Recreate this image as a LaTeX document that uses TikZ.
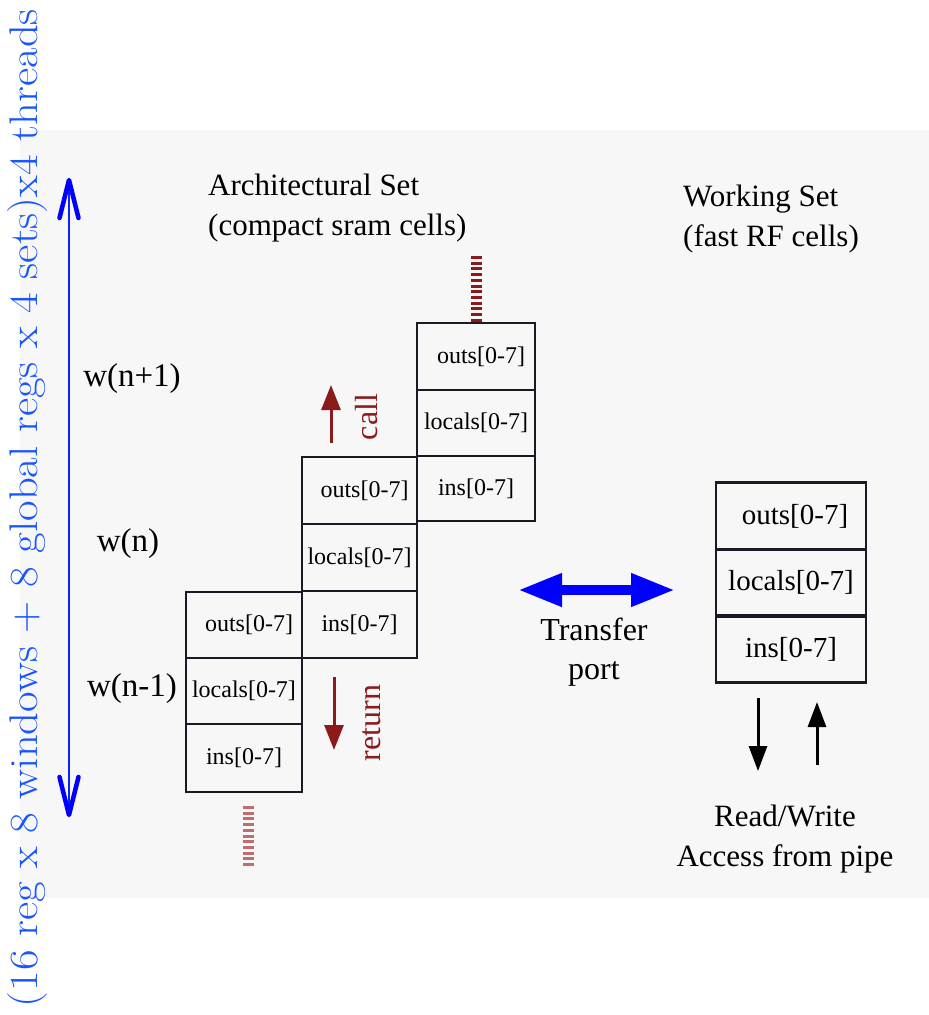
\documentclass[tikz,border=0pt]{standalone}
\usepackage{fontspec}
\newfontfamily\tms{Liberation Serif}
\usetikzlibrary{arrows.meta}
\definecolor{bggray}{RGB}{247,247,247}
\definecolor{regred}{RGB}{139,26,26}
\definecolor{stubred}{RGB}{190,110,110}
\definecolor{noteblue}{RGB}{25,85,255}
\definecolor{cellline}{RGB}{30,24,36}
\tikzset{
  cell/.style={draw=cellline, line width=2.6pt, inner sep=0pt, font=\tms\fontsize{24}{28}\selectfont},
  wcell/.style={cell, minimum width=150pt, minimum height=66.5pt, font=\tms\fontsize{29}{33}\selectfont},
  lbl/.style={font=\tms\fontsize{31}{40}\selectfont, inner sep=0pt},
  winlbl/.style={font=\tms\fontsize{33}{38}\selectfont, inner sep=0pt},
  redarrow/.style={draw=regred, line width=3pt, -{Triangle[length=25pt,width=19pt]}},
  pipearrow/.style={draw=black, line width=3pt, -{Triangle[length=25pt,width=18pt]}},
  stub/.style={line width=11pt, dash pattern=on 3pt off 2.7pt},
}
\begin{document}
\begin{tikzpicture}[x=1pt,y=-1pt]
\useasboundingbox (0,0) rectangle (929,1015);
\fill[bggray] (20,130) rectangle (929,898);

% total register count, running upwards along the left edge
\node[rotate=90, text=noteblue, inner sep=0pt, font=\fontsize{40}{48}\selectfont] (total) at (28,508)
  {\scalebox{1.12}[1]{(16 reg x 8 windows + 8 global regs x 4 sets)x4 threads}};

% extent arrow with open heads
\coordinate (xt) at (69,180);
\coordinate (xb) at (69,815);
\draw[noteblue!40!blue, line width=1.3pt] (xt) -- (xb);
\draw[blue, line width=4.5pt, line cap=round, line join=round]
  ([xshift=-9.5pt,yshift=-38pt]xt) -- (xt) -- ([xshift=9.5pt,yshift=-38pt]xt);
\draw[blue, line width=4.5pt, line cap=round, line join=round]
  ([xshift=-9.5pt,yshift=38pt]xb) -- (xb) -- ([xshift=9.5pt,yshift=38pt]xb);

% window labels
\node[winlbl] (wn1) at (132,379) {w(n+1)};
\node[winlbl] (wn)  at (128,544) {w(n)};
\node[winlbl] (wnm) at (132,689) {w(n-1)};

% headings
\node[lbl, anchor=north west, align=left] (arch) at (208,174)
  {Architectural Set\\(compact sram cells)};
\node[lbl, anchor=north west, align=left] (work) at (683,185)
  {Working Set\\(fast RF cells)};

% window w(n-1)
\node[cell, minimum width=116pt, minimum height=66pt]  (a1) at (244,625) {\hspace{10pt}outs[0-7]};
\node[cell, minimum width=116pt, minimum height=66pt]  (b1) at (244,691) {locals[0-7]};
\node[cell, minimum width=116pt, minimum height=68pt]  (c1) at (244,758) {ins[0-7]};
% window w(n)
\node[cell, minimum width=115pt, minimum height=67pt]  (a2) at (359.5,490.5) {\hspace{10pt}outs[0-7]};
\node[cell, minimum width=115pt, minimum height=67pt]  (b2) at (359.5,557.5) {locals[0-7]};
\node[cell, minimum width=115pt, minimum height=67pt]  (c2) at (359.5,624.5) {ins[0-7]};
% window w(n+1)
\node[cell, minimum width=118pt, minimum height=67pt]  (a3) at (476,356.5) {\hspace{10pt}outs[0-7]};
\node[cell, minimum width=118pt, minimum height=66pt]  (b3) at (476,423) {locals[0-7]};
\node[cell, minimum width=118pt, minimum height=65pt]  (c3) at (476,488.5) {ins[0-7]};

% working set
\node[wcell] (wa) at (791,516) {\hspace{8pt}outs[0-7]};
\node[wcell] (wb) at (791,582.5) {locals[0-7]};
\node[wcell] (wc) at (791,649.5) {ins[0-7]};

% continuation stubs above and below the window stack
\coordinate (s3) at (476,256);
\draw[stub, draw=regred] (s3) -- (a3.north);
\coordinate (s1a) at (248,806);
\coordinate (s1) at (248,868);
\draw[stub, draw=stubred] (s1a) -- (s1);

% call / return
\coordinate (cs) at (331,443);
\coordinate (ce) at (331,385);
\draw[redarrow] (cs) -- (ce);
\node[rotate=90, text=regred, font=\tms\fontsize{32}{36}\selectfont, inner sep=0pt] (call) at (367,417) {call};
\coordinate (rs) at (334,677);
\coordinate (re) at (334,750);
\draw[redarrow] (rs) -- (re);
\node[rotate=90, text=regred, font=\tms\fontsize{32}{36}\selectfont, inner sep=0pt] (ret) at (372,723) {return};

% transfer port
\coordinate (tl) at (518,590);
\coordinate (tr) at (675,590);
\draw[blue, line width=10pt, {Triangle[length=44pt,width=31pt]}-{Triangle[length=44pt,width=31pt]}] (tl) -- (tr);
\node[lbl, align=center, font=\tms\fontsize{32}{39}\selectfont] (tp) at (594,652) {Transfer\\port};

% pipe access
\coordinate (p1s) at (758,698);
\coordinate (p1e) at (758,771);
\draw[pipearrow] (p1s) -- (p1e);
\coordinate (p2s) at (817,765);
\coordinate (p2e) at (817,702);
\draw[pipearrow] (p2s) -- (p2e);
\node[lbl, align=center, font=\tms\fontsize{31}{40}\selectfont] (rw) at (785,839) {Read/Write\\Access from pipe};
\end{tikzpicture}
\end{document}
